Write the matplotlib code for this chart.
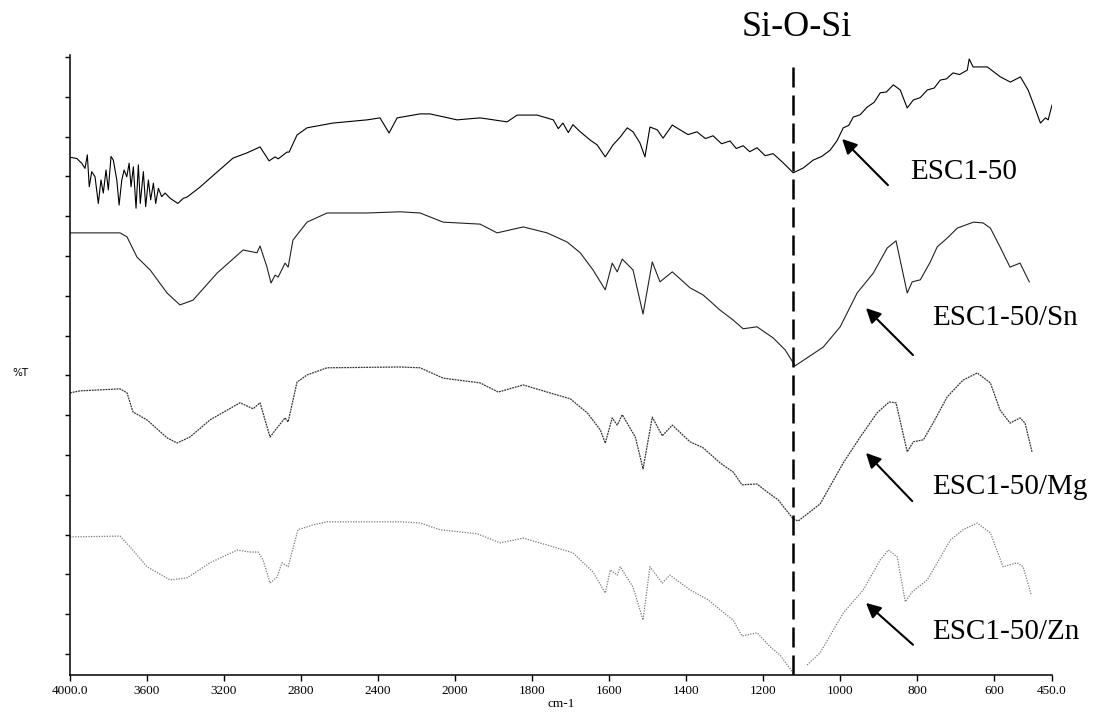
import numpy as np
import matplotlib.pyplot as plt

plt.rcParams['font.family'] = ['Liberation Serif', 'DejaVu Serif']

# IR spectra, stacked (arbitrary %T offset units, one tick = 1)
wn_esc = [4000, 3965, 3939, 3922, 3910, 3900, 3887, 3870, 3853, 3839, 3827, 3813, 3801,
          3787, 3775, 3757, 3745, 3731, 3719, 3705, 3693, 3683, 3671, 3657, 3645, 3635,
          3619, 3607, 3593, 3581, 3567, 3555, 3541, 3524, 3506, 3480, 3440, 3411, 3392,
          3325, 3236, 3153, 3081, 3013, 2966, 2935, 2919, 2873, 2862, 2821, 2769, 2634,
          2457, 2390, 2343, 2301, 2182, 2130, 1995, 1935, 1865, 1839, 1787, 1745, 1732,
          1720, 1706, 1694, 1675, 1649, 1631, 1610, 1590, 1571, 1553, 1538, 1520, 1507,
          1494, 1475, 1460, 1436, 1416, 1395, 1372, 1350, 1330, 1308, 1286, 1270, 1252,
          1235, 1216, 1195, 1174, 1148, 1122, 1096, 1070, 1048, 1026, 1008, 992, 978, 966,
          948, 930, 912, 896, 880, 862, 844, 826, 810, 792, 774, 756, 740, 724, 707, 690,
          670, 665, 655, 618, 584, 558, 532, 512, 499, 480, 467, 460, 450]
t_esc = [12.48, 12.45, 12.33, 12.20, 12.54, 11.74, 12.12, 11.99, 11.32, 11.91, 11.58, 12.16,
         11.66, 12.50, 12.41, 11.91, 11.28, 11.91, 12.16, 11.99, 12.33, 11.74, 12.24, 11.20,
         12.29, 11.32, 12.12, 11.24, 11.91, 11.41, 11.83, 11.32, 11.70, 11.49, 11.58, 11.45,
         11.32, 11.45, 11.48, 11.73, 12.11, 12.46, 12.59, 12.74, 12.39, 12.49, 12.44, 12.61,
         12.61, 13.04, 13.22, 13.34, 13.42, 13.47, 13.09, 13.47, 13.57, 13.57, 13.42, 13.47,
         13.37, 13.54, 13.54, 13.42, 13.20, 13.34, 13.10, 13.30, 13.12, 12.91, 12.79, 12.49,
         12.79, 12.99, 13.22, 13.12, 12.84, 12.49, 13.24, 13.17, 12.96, 13.29, 13.17, 13.05,
         13.12, 12.95, 13.02, 12.82, 12.89, 12.70, 12.77, 12.62, 12.72, 12.52, 12.57, 12.34,
         12.09, 12.21, 12.41, 12.50, 12.66, 12.90, 13.22, 13.28, 13.49, 13.55, 13.74, 13.86,
         14.10, 14.12, 14.30, 14.17, 13.72, 13.92, 13.98, 14.17, 14.22, 14.42, 14.45, 14.60,
         14.56, 14.67, 14.95, 14.75, 14.75, 14.50, 14.37, 14.50, 14.17, 13.84, 13.34, 13.47,
         13.42, 13.79]

wn_sn = [4000, 3740, 3704, 3652, 3584, 3496, 3429, 3361, 3236, 3101, 3029, 3013, 2977,
         2956, 2935, 2919, 2883, 2867, 2842, 2769, 2665, 2457, 2286, 2182, 2062, 1935,
         1891, 1823, 1761, 1709, 1675, 1642, 1610, 1592, 1579, 1566, 1538, 1512, 1488,
         1468, 1436, 1390, 1356, 1312, 1278, 1252, 1216, 1174, 1143, 1117, 1044, 1000,
         956, 914, 878, 855, 826, 813, 792, 766, 748, 722, 696, 654, 629, 610, 585, 559,
         533, 509]
t_sn = [10.58, 10.58, 10.48, 9.97, 9.65, 9.07, 8.77, 8.89, 9.57, 10.15, 10.08, 10.25, 9.72,
        9.32, 9.52, 9.47, 9.82, 9.72, 10.40, 10.85, 11.08, 11.08, 11.11, 11.08, 10.85, 10.80,
        10.58, 10.73, 10.58, 10.35, 10.08, 9.65, 9.15, 9.82, 9.60, 9.92, 9.65, 8.54, 9.85,
        9.35, 9.60, 9.20, 9.02, 8.64, 8.39, 8.17, 8.22, 7.94, 7.64, 7.24, 7.71, 8.22,
        9.07, 9.57, 10.20, 10.38, 9.07, 9.35, 9.40, 9.85, 10.23, 10.45, 10.70, 10.85, 10.83,
        10.70, 10.23, 9.72, 9.82, 9.35]

wn_mg = [4000, 3948, 3740, 3704, 3673, 3600, 3496, 3444, 3377, 3273, 3117, 3049, 3013,
         2961, 2925, 2883, 2867, 2821, 2769, 2665, 2286, 2182, 2062, 1935, 1888, 1823,
         1761, 1701, 1657, 1623, 1610, 1592, 1579, 1566, 1532, 1512, 1488, 1462, 1436,
         1390, 1356, 1312, 1278, 1255, 1216, 1187, 1161, 1122, 1109, 1052, 992, 948, 904,
         873, 855, 826, 810, 784, 759, 722, 681, 644, 610, 585, 559, 533, 520, 502]
t_mg = [6.56, 6.61, 6.66, 6.56, 6.08, 5.88, 5.43, 5.30, 5.45, 5.88, 6.31, 6.16, 6.31,
        5.45, 5.68, 5.93, 5.83, 6.83, 7.01, 7.19, 7.21, 7.19, 6.93, 6.81, 6.58, 6.76,
        6.58, 6.41, 6.06, 5.63, 5.30, 5.93, 5.75, 6.01, 5.45, 4.65, 5.95, 5.48, 5.75,
        5.33, 5.18, 4.80, 4.57, 4.25, 4.27, 4.05, 3.87, 3.39, 3.34, 3.77, 4.80, 5.45, 6.06,
        6.33, 6.31, 5.08, 5.33, 5.38, 5.80, 6.46, 6.88, 7.06, 6.81, 6.13, 5.80, 5.93, 5.80,
        5.08]

wn_zn = [4000, 3740, 3688, 3600, 3480, 3392, 3273, 3132, 3065, 3023, 2997, 2961, 2925,
         2899, 2867, 2816, 2738, 2665, 2286, 2182, 2078, 1943, 1883, 1823, 1745, 1694,
         1642, 1610, 1597, 1579, 1571, 1538, 1512, 1494, 1462, 1442, 1390, 1343, 1312,
         1278, 1255, 1216, 1182, 1156, 1122, 1110, 1086, 1052, 992, 940, 896, 875, 852,
         831, 813, 774, 748, 714, 681, 644, 610, 577, 541, 525, 504]
t_zn = [2.94, 2.96, 2.69, 2.19, 1.86, 1.91, 2.29, 2.61, 2.56, 2.56, 2.36, 1.78, 1.93,
        2.29, 2.19, 3.12, 3.24, 3.32, 3.32, 3.29, 3.12, 3.02, 2.79, 2.91, 2.69, 2.54,
        2.06, 1.53, 2.11, 1.98, 2.19, 1.68, 0.85, 2.19, 1.78, 1.98, 1.61, 1.36, 1.11,
        0.85, 0.45, 0.53, 0.18, -0.03, -0.48, np.nan, -0.28, 0.03, 1.03, 1.61, 2.36, 2.61,
        2.44, 1.31, 1.56, 1.86, 2.29, 2.86, 3.12, 3.29, 3.04, 2.19, 2.29, 2.19, 1.48]

x_ticks = [4000, 3600, 3200, 2800, 2400, 2000, 1800, 1600, 1400, 1200, 1000, 800, 600, 450]
x_labels = ['4000.0', '3600', '3200', '2800', '2400', '2000', '1800', '1600', '1400',
            '1200', '1000', '800', '600', '450.0']

si_o_si = 1122
names = ['ESC1-50', 'ESC1-50/Sn', 'ESC1-50/Mg', 'ESC1-50/Zn']
label_pos = [(818, 12.11), (761, 8.44), (761, 4.20), (761, 0.55)]
arrow_head = [(995, 12.94), (933, 8.69), (933, 5.05), (933, 1.28)]
arrow_tail = [(876, 11.78), (811, 7.51), (813, 3.84), (811, 0.23)]


# below 2000 cm-1 the wavenumber scale is stretched twofold
def fwd(w):
    w = np.asarray(w, dtype=float)
    return np.where(w >= 2000, w, 2 * w - 2000)


def inv(v):
    v = np.asarray(v, dtype=float)
    return np.where(v >= 2000, v, (v + 2000) / 2)


fig = plt.figure(figsize=(11.07, 7.15), dpi=100)
ax = fig.add_axes([70 / 1107, 40 / 715, 982 / 1107, 620 / 715])
ax.set_xscale('function', functions=(fwd, inv))

ax.plot(wn_esc, t_esc, color='black', lw=0.8)
ax.plot(wn_sn, t_sn, color='#222222', lw=0.8)
ax.plot(wn_mg, t_mg, color='#333333', lw=0.9, ls=(0, (1.5, 0.7)))
ax.plot(wn_zn, t_zn, color='#7a7a7a', lw=0.9, ls=(0, (1, 1.1)))

ax.vlines(si_o_si, -0.53, 14.8, colors='black', lw=1.8, linestyles=(0, (8, 3.2)))
ax.text(1112, 1.045, 'Si-O-Si', transform=ax.get_xaxis_transform(),
        ha='center', va='center', fontsize=26)

for name, pos, head, tail in zip(names, label_pos, arrow_head, arrow_tail):
    ax.annotate('', xy=head, xytext=tail,
                arrowprops=dict(arrowstyle='-|>', color='black', lw=1.5,
                                mutation_scale=22, shrinkA=0, shrinkB=0))
    ax.text(pos[0], pos[1], name, ha='left', va='center', fontsize=21)

ax.set_xlim(4000, 450)
ax.set_ylim(-0.53, 15.05)
ax.set_xticks(x_ticks)
ax.set_xticklabels(x_labels)
ax.set_yticks(range(16))
ax.set_yticklabels([])
ax.tick_params(axis='x', direction='out', length=4, width=1, labelsize=9.5, pad=3)
ax.tick_params(axis='y', direction='out', length=3.5, width=1)
ax.minorticks_off()
ax.spines['top'].set_visible(False)
ax.spines['right'].set_visible(False)
ax.spines['left'].set_linewidth(1.1)
ax.spines['bottom'].set_linewidth(1.1)
ax.set_xlabel('cm-1', fontsize=9.5, labelpad=1)
fig.text(20 / 1107, 1 - 373 / 715, '%T', fontsize=7.5, family='DejaVu Sans',
         ha='center', va='center')

fig.savefig('out.png', dpi=100)
